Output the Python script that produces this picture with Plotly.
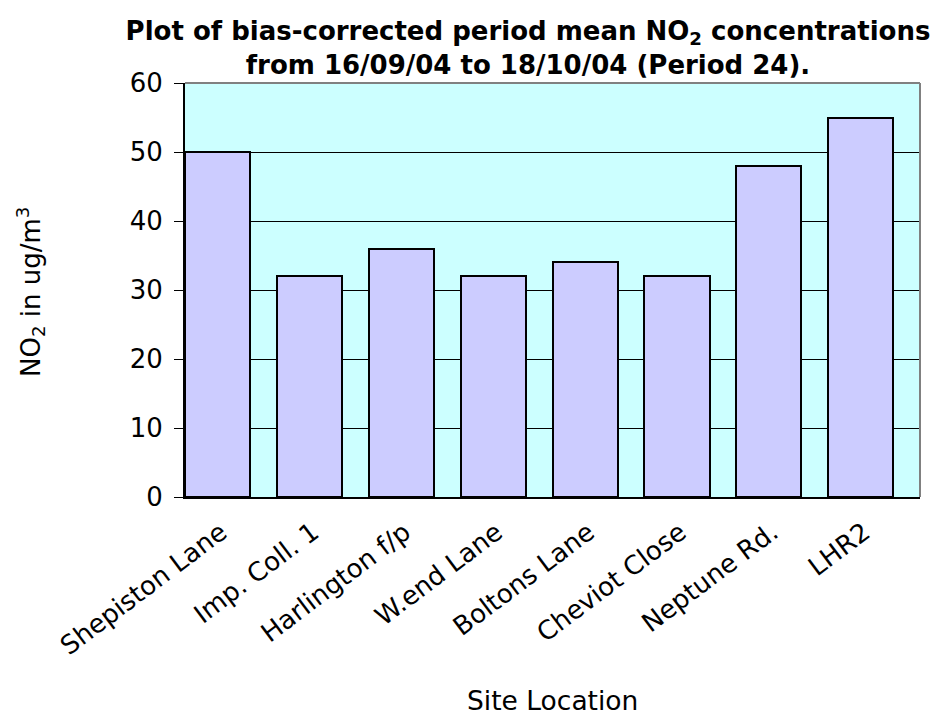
import plotly.graph_objects as go

sites = ["Shepiston Lane", "Imp. Coll. 1", "Harlington f/p", "W.end Lane",
         "Boltons Lane", "Cheviot Close", "Neptune Rd.", "LHR2"]
no2 = [50, 32, 36, 32, 34, 32, 48, 55]
y_ticks = [0, 10, 20, 30, 40, 50, 60]

FONT = "DejaVu Sans"

fig = go.Figure(
    go.Bar(
        x=sites,
        y=no2,
        offset=-0.5,
        width=0.71,
        marker=dict(color="#CCCCFF", line=dict(color="black", width=2)),
        showlegend=False,
        hoverinfo="x+y",
    )
)

fig.update_layout(
    width=939,
    height=718,
    margin=dict(l=185, r=19, t=83, b=221),
    paper_bgcolor="white",
    plot_bgcolor="#CCFFFF",
    font=dict(family=FONT, color="black", size=24),
    title=dict(
        text="Plot of bias-corrected period mean NO<sub>2</sub> concentrations"
             "<br>from 16/09/04 to 18/10/04 (Period 24).",
        font=dict(family=FONT, size=26, color="black", weight="bold"),
        x=528 / 939,
        xanchor="center",
        y=1 - 40 / 718,
        yanchor="middle",
    ),
    bargap=0,
)

fig.update_xaxes(
    type="category",
    tickangle=-37,
    ticks="",
    ticklabelshift=-10,
    ticklabelstandoff=8,
    showline=True,
    linecolor="black",
    linewidth=2,
    showgrid=False,
    tickfont=dict(family=FONT, size=26),
    range=[-0.5, len(sites) - 0.5],
)

fig.update_yaxes(
    range=[0, 60],
    tickvals=y_ticks,
    ticks="outside",
    ticklen=9,
    tickcolor="black",
    ticklabelstandoff=6,
    showline=True,
    linecolor="black",
    linewidth=2,
    showgrid=True,
    gridcolor="black",
    gridwidth=1,
    zeroline=False,
    tickfont=dict(family=FONT, size=26),
)

# grey frame on top and right of the plotting area
fig.add_shape(type="line", xref="paper", yref="paper", x0=0, x1=1, y0=1, y1=1,
              line=dict(color="#808080", width=2))
fig.add_shape(type="line", xref="paper", yref="paper", x0=1, x1=1, y0=0, y1=1,
              line=dict(color="#808080", width=2))

fig.add_annotation(
    text="NO<sub>2</sub> in ug/m<sup>3</sup>",
    xref="paper", yref="paper",
    x=(30 - 185) / 735, y=(497 - 292) / 414,
    xanchor="center", yanchor="middle",
    textangle=-90, showarrow=False,
    font=dict(family=FONT, size=26),
)
fig.add_annotation(
    text="Site Location",
    xref="paper", yref="paper",
    x=0.5, y=(497 - 700) / 414,
    xanchor="center", yanchor="middle",
    showarrow=False,
    font=dict(family=FONT, size=26.5),
)

fig.write_html("out.html")
